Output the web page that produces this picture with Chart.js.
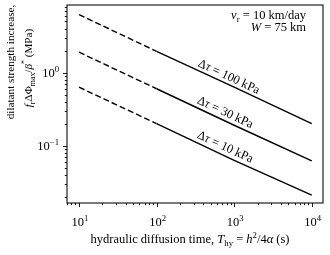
<!DOCTYPE html>
<html>
<head>
<meta charset="utf-8">
<script src="https://cdn.jsdelivr.net/npm/chart.js@4/dist/chart.umd.min.js"></script>
<style>
html,body{margin:0;padding:0;background:#fff;}
#wrap{width:330px;height:255px;position:relative;}
</style>
</head>
<body>
<div id="wrap"><canvas id="c"></canvas></div>
<script>
// hydraulic diffusion time T_hy (s)
const categories = [10, 100, 1000, 10000];
// dilatant strength increase (MPa) for each shear stress change
const dtau100 = [6.2, 1.95, 0.63, 0.2];
const dtau30 = [1.9, 0.6, 0.19, 0.062];
const dtau10 = [0.63, 0.2, 0.063, 0.021];
const seriesNames = ['100', '30', '10'];
// tick labels
const xTickValues = [10, 100, 1000, 10000];
const xTickExponents = ['1', '2', '3', '4'];
const yTickValues = [0.1, 1];
const yTickExponents = ['\u22121', '0'];

const FONT = "'Liberation Serif', 'DejaVu Serif', serif";
const dashLimit = 100;
const FS = 12.5;

function toPoints(arr) { return categories.map((x, i) => ({x: x, y: arr[i]})); }

function mkDataset(arr, name) {
  return {
    label: name,
    data: toPoints(arr),
    borderColor: '#000',
    borderWidth: 1.4,
    pointRadius: 0,
    fill: false,
    tension: 0,
    segment: {
      borderDash: ctx => (ctx.p1.parsed.x <= dashLimit ? [6, 3] : undefined)
    }
  };
}

function segWidth(ctx, s, size) {
  const sz = (s.sub || s.sup) ? size * 0.7 : size;
  ctx.font = (s.it ? 'italic ' : '') + sz + 'px ' + FONT;
  return ctx.measureText(s.t).width;
}
function drawRich(ctx, segs, x, y, size, align) {
  let w = 0;
  segs.forEach(s => { w += segWidth(ctx, s, size); });
  let cx = align === 'center' ? x - w / 2 : (align === 'right' ? x - w : x);
  ctx.textBaseline = 'alphabetic';
  ctx.textAlign = 'left';
  segs.forEach(s => {
    const ww = segWidth(ctx, s, size);
    let dy = 0;
    if (s.sub) dy = size * 0.25;
    if (s.sup) dy = -size * 0.42;
    ctx.fillText(s.t, cx, y + dy);
    cx += ww;
  });
}

const labelAnchors = [780, 700, 700];

const decor = {
  id: 'decor',
  afterDatasetsDraw(chart) {
    const ctx = chart.ctx;
    const a = chart.chartArea;
    const xs = chart.scales.x, ys = chart.scales.y;
    ctx.save();
    ctx.fillStyle = '#000';
    ctx.strokeStyle = '#222';
    // frame
    ctx.lineWidth = 1.2;
    ctx.strokeRect(a.left, a.top, a.right - a.left, a.bottom - a.top);
    // ticks
    ctx.lineWidth = 0.9;
    ctx.strokeStyle = '#000';
    const tick = (scale, v, major) => {
      const len = major ? 4 : 2.2;
      ctx.beginPath();
      if (scale.axis === 'x') {
        const p = Math.round(scale.getPixelForValue(v)) + 0.5;
        ctx.moveTo(p, a.bottom); ctx.lineTo(p, a.bottom + len);
      } else {
        const p = Math.round(scale.getPixelForValue(v)) + 0.5;
        ctx.moveTo(a.left, p); ctx.lineTo(a.left - len, p);
      }
      ctx.stroke();
    };
    [xs, ys].forEach(sc => {
      for (let e = -4; e <= 6; e++) {
        for (let m = 1; m <= 9; m++) {
          const v = m * Math.pow(10, e);
          if (v >= sc.min && v <= sc.max) tick(sc, v, m === 1);
        }
      }
    });
    // tick labels
    xTickValues.forEach((v, i) => {
      const p = xs.getPixelForValue(v);
      drawRich(ctx, [{t: '10'}, {t: xTickExponents[i], sup: true}], p + 1, a.bottom + 23, FS, 'center');
    });
    yTickValues.forEach((v, i) => {
      const p = ys.getPixelForValue(v);
      drawRich(ctx, [{t: '10'}, {t: yTickExponents[i], sup: true}], a.left - 8, p + 4.5, FS, 'right');
    });
    // x title
    drawRich(ctx, [
      {t: 'hydraulic diffusion time, '}, {t: 'T', it: true}, {t: 'hy', sub: true},
      {t: ' = '}, {t: 'h', it: true}, {t: '2', sup: true}, {t: '/4'}, {t: '\u03b1', it: true}, {t: ' (s)'}
    ], (a.left + a.right) / 2 - 5, 243, FS, 'center');
    // y title
    ctx.save();
    ctx.rotate(-Math.PI / 2);
    drawRich(ctx, [{t: 'dilatant strength increase,'}], -62, 14, 11.2, 'center');
    drawRich(ctx, [
      {t: 'f', it: true}, {t: 'r', sub: true}, {t: '\u0394\u03a6'}, {t: 'max', sub: true},
      {t: '/'}, {t: '\u03b2', it: true}, {t: '*', sup: true}, {t: ' (MPa)'}
    ], -68, 32, 11.2, 'center');
    ctx.restore();
    // annotation
    drawRich(ctx, [{t: 'v', it: true}, {t: 'r', sub: true}, {t: ' = 10 km/day'}], a.right - 17, 18.5, FS, 'right');
    drawRich(ctx, [{t: 'W', it: true}, {t: ' = 75 km'}], a.right - 17, 31, FS, 'right');
    // series labels along lines
    chart.data.datasets.forEach((ds, i) => {
      const d = ds.data;
      const p0 = {x: xs.getPixelForValue(d[1].x), y: ys.getPixelForValue(d[1].y)};
      const p1 = {x: xs.getPixelForValue(d[3].x), y: ys.getPixelForValue(d[3].y)};
      const ang = Math.atan2(p1.y - p0.y, p1.x - p0.x);
      const lx = xs.getPixelForValue(labelAnchors[i]);
      const t = (lx - p0.x) / (p1.x - p0.x);
      const ly = p0.y + t * (p1.y - p0.y);
      ctx.save();
      ctx.translate(lx, ly);
      ctx.rotate(ang);
      drawRich(ctx, [{t: '\u0394'}, {t: '\u03c4', it: true}, {t: ' = ' + seriesNames[i] + ' kPa'}], 0, -4, FS, 'center');
      ctx.restore();
    });
    ctx.restore();
  }
};

new Chart(document.getElementById('c'), {
  type: 'line',
  data: {
    datasets: [mkDataset(dtau100, seriesNames[0]), mkDataset(dtau30, seriesNames[1]), mkDataset(dtau10, seriesNames[2])]
  },
  options: {
    responsive: true,
    maintainAspectRatio: false,
    animation: false,
    devicePixelRatio: 1,
    layout: {padding: {top: 5, right: 7, left: 0, bottom: 0}},
    plugins: {legend: {display: false}, tooltip: {enabled: false}},
    scales: {
      x: {
        type: 'logarithmic', min: 7.0, max: 13970,
        grid: {display: false}, border: {display: false},
        ticks: {display: false},
        afterFit: s => { s.height = 52; }
      },
      y: {
        type: 'logarithmic', min: 0.0164, max: 8.4,
        grid: {display: false}, border: {display: false},
        ticks: {display: false},
        afterFit: s => { s.width = 67; }
      }
    }
  },
  plugins: [decor]
});
</script>
</body>
</html>
